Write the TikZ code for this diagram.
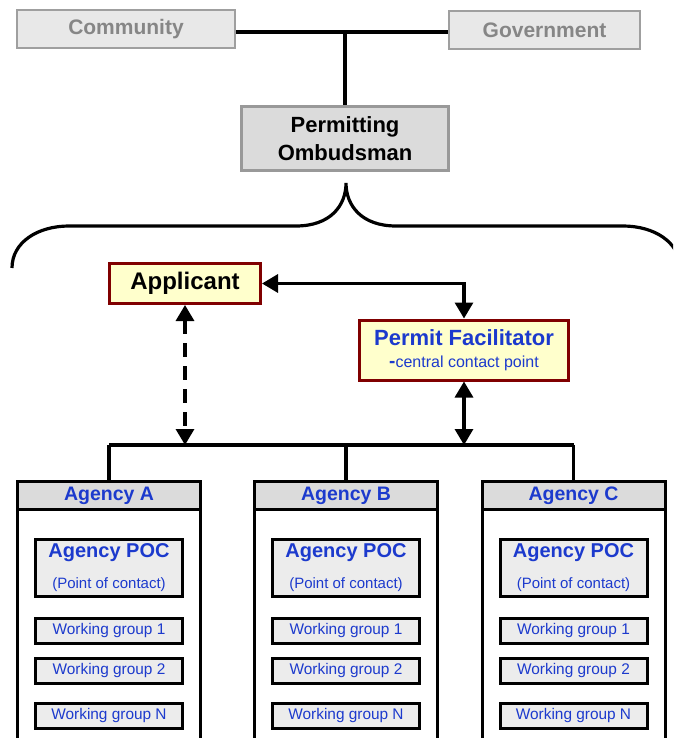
\documentclass[tikz,border=0pt]{standalone}
\usepackage{fontspec}
\setmainfont{Liberation Sans}
\usetikzlibrary{positioning,arrows.meta}
\definecolor{agblue}{RGB}{28,58,205}
\definecolor{tipred}{RGB}{128,0,0}
\definecolor{paleyel}{RGB}{255,255,204}
\newcommand{\fsz}[2]{\fontsize{#1}{#2}\selectfont}

\begin{document}
\begin{tikzpicture}[
        x=1pt, y=-1pt,
        node distance = 20pt and 20pt,
        box/.style   = {rectangle, draw, line width=3pt, inner sep=0pt,
                        text centered, align=center},
        outer/.style = {box, draw=gray!75, line width=2pt, fill=gray!18,
                        text=gray!95!white, font=\fsz{21}{25}\bfseries},
        ombud/.style = {box, draw=gray!80, fill=gray!28,
                        minimum width=207pt, minimum height=64pt,
                        font=\fsz{22}{28}\bfseries},
        party/.style = {box, draw=tipred, fill=paleyel},
        aghead/.style= {box, fill=gray!28, minimum width=183pt, minimum height=28pt,
                        text=agblue, font=\fsz{19.5}{22}\bfseries},
        agbody/.style= {box, fill=white, minimum width=183pt, minimum height=320pt},
        poc/.style   = {box, fill=gray!15, minimum width=147pt, minimum height=57pt,
                        text=agblue, font=\fsz{20}{31}\bfseries},
        wg/.style    = {box, fill=gray!15, minimum width=147pt, minimum height=25pt,
                        text=agblue, font=\fsz{15.4}{18}},
        line/.style  = {line width=3.2pt},
        arr/.style   = {line, {Triangle[length=16pt,width=18pt]}-{Triangle[length=16pt,width=18pt]}},
        darr/.style  = {arr, dash pattern=on 14pt off 9pt}
    ]
    \useasboundingbox (0,0) rectangle (673,738);
    \clip (0,0) rectangle (673,738);

    % top level
    \node[outer, minimum width=218pt, minimum height=38pt] (comm) at (126,29) {Community};
    \node[outer, minimum width=191pt, minimum height=38pt] (gov)  at (544.5,30) {Government};
    \node[ombud] (omb) at (345,138.5) {Permitting\\Ombudsman};
    \coordinate (tee) at (omb.north |- 0,32);
    \draw[line] (comm.east |- tee) -- (gov.west |- tee);
    \draw[line] (tee) -- (omb.north);

    % brace
    \draw[line] (12,268) .. controls (12,242) and (38,226) .. (69,226) -- (296,226)
        .. controls (330,226) and (346,206) .. (346,183)
        .. controls (346,206) and (362,226) .. (396,226) -- (623,226)
        .. controls (654,226) and (680,242) .. (680,268);

    % applicant and facilitator
    \node[party, minimum width=151pt, minimum height=40pt, font=\fsz{24}{28}\bfseries]
        (app) at (185,283.5) {Applicant};
    \node[party, minimum width=209pt, minimum height=60pt, text=agblue,
          font=\fsz{22}{22}\bfseries]
        (fac) at (464,350) {Permit Facilitator\\
        {\mdseries\fsz{16}{22}{\bfseries\fsz{19}{22}-}central contact point}};

    % agencies
    \node[agbody, anchor=north] (bodyA) at (109,480) {};
    \node[agbody, anchor=north] (bodyB) at (346,480) {};
    \node[agbody, anchor=north] (bodyC) at (573.5,480) {};
    \node[aghead, anchor=north] (agA) at (bodyA.north) {Agency A};
    \node[aghead, anchor=north] (agB) at (bodyB.north) {Agency B};
    \node[aghead, anchor=north] (agC) at (bodyC.north) {Agency C};

    \node[poc, below=27pt of agA] (pocA) {Agency POC\\{\fsz{15}{18}\mdseries (Point of contact)}};
    \node[wg, below=19pt of pocA] (wgA1) {Working group 1};
    \node[wg, below=12pt of wgA1] (wgA2) {Working group 2};
    \node[wg, below=17pt of wgA2] (wgAN) {Working group N};

    \node[poc, below=27pt of agB] (pocB) {Agency POC\\{\fsz{15}{18}\mdseries (Point of contact)}};
    \node[wg, below=19pt of pocB] (wgB1) {Working group 1};
    \node[wg, below=12pt of wgB1] (wgB2) {Working group 2};
    \node[wg, below=17pt of wgB2] (wgBN) {Working group N};

    \node[poc, below=27pt of agC] (pocC) {Agency POC\\{\fsz{15}{18}\mdseries (Point of contact)}};
    \node[wg, below=19pt of pocC] (wgC1) {Working group 1};
    \node[wg, below=12pt of wgC1] (wgC2) {Working group 2};
    \node[wg, below=17pt of wgC2] (wgCN) {Working group N};

    % bus to agencies
    \coordinate (bus) at (346,445);
    \draw[line] (agA.north |- bus) -- (agC.north |- bus);
    \draw[line] (agA.north |- bus) -- (agA.north);
    \draw[line] (agB.north |- bus) -- (agB.north);
    \draw[line] (agC.north |- bus) -- (agC.north);

    % arrows
    \draw[arr] (app.east) -| (fac.north);
    \draw[arr] (fac.south) -- (fac.south |- bus);
    \draw[darr] (app.south) -- (app.south |- bus);
\end{tikzpicture}
\end{document}
